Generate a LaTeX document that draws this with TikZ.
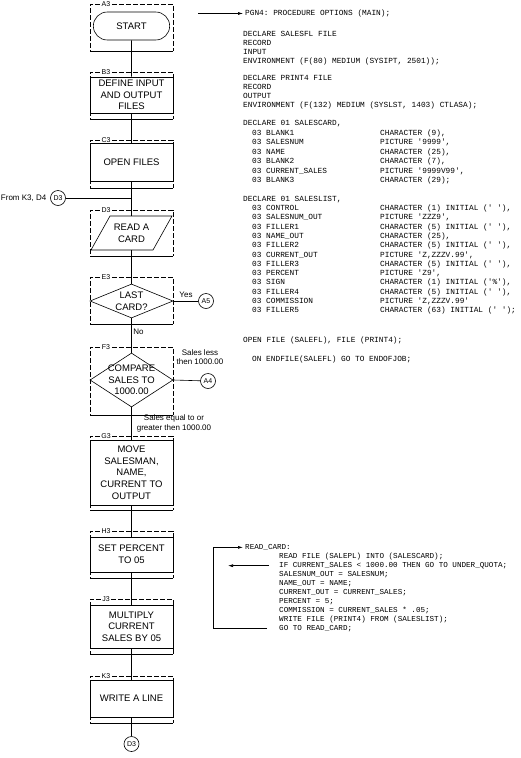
\documentclass[tikz,border=0pt]{standalone}
\usepackage{fontspec}
\setmainfont{Liberation Sans}
\setmonofont{Liberation Mono}
\usetikzlibrary{arrows.meta}
\usetikzlibrary{shapes.geometric,shapes.misc}

\tikzset{
  flow/.style={line width=0.6pt,-{Latex[length=5pt,width=3pt]}},
  frame/.style={line width=0.5pt,dash pattern=on 5pt off 2pt},
  tag/.style={font=\fontsize{7}{8}\selectfont,inner sep=1.5pt},
  flowtext/.style={font=\fontsize{9.5}{11.7}\selectfont,align=center,inner sep=0pt},
  procbox/.style={draw,line width=0.6pt,minimum width=83pt,inner sep=0pt,
    font=\fontsize{9.5}{11.7}\selectfont,align=center},
  termbox/.style={draw,line width=0.6pt,rounded rectangle,minimum width=83pt,
    minimum height=28pt,font=\fontsize{9.5}{11.7}\selectfont},
  decide/.style={draw,line width=0.6pt,diamond,minimum width=83pt,inner sep=0pt},
  offpage/.style={draw,line width=0.6pt,circle,minimum size=15pt,inner sep=0pt,
    font=\fontsize{7}{8}\selectfont},
  note/.style={font=\fontsize{8}{9.5}\selectfont,align=center,inner sep=0pt},
  code/.style={font=\ttfamily\fontsize{7.8}{9}\selectfont,anchor=base west,inner sep=0pt},
  smallcode/.style={code,font=\ttfamily\fontsize{7.6}{9}\selectfont}
}

\begin{document}
\begin{tikzpicture}[x=1pt,y=-1pt]
 \fill[white] (0,0) rectangle (521,758);
 \useasboundingbox (0,0) rectangle (521,758);

 % block frames with their grid tags
 \foreach \lab/\ya/\yb in {A3/4/51,B3/72/119,C3/140/188,D3/210/256,E3/277/324,F3/347/415,G3/436/510,H3/531/578,J3/599/654,K3/676/723}{
  \node[tag] (tag\lab) at (106,\ya) {\lab};
  \draw[frame] (tag\lab.west) -- (90,\ya) -- (90,\yb);
  \draw[frame] (tag\lab.east) -- (173,\ya) -- (173,\yb);
  \draw[line width=0.5pt] (90,\yb) -- (173,\yb);
 }

 % flowchart
 \node[termbox] (start) at (131.5,26) {START};
 \node[procbox,minimum height=36pt] (define) at (131.5,95) {DEFINE INPUT\\AND OUTPUT\\FILES};
 \node[procbox,minimum height=38pt] (openf) at (131.5,162) {OPEN FILES};
 \draw[line width=0.6pt] (91,250) -- (110,216) -- (172,216) -- (153,250) -- cycle;
 \node[flowtext,minimum height=34pt] (read) at (131.5,233) {READ A\\CARD};
 \node[decide,minimum height=34pt] (last) at (131.5,301) {};
 \node[flowtext] (lasttxt) at (last) {LAST\\CARD?};
 \node[decide,minimum height=54pt] (cmp) at (131.5,380) {};
 \node[flowtext] (cmptxt) at (cmp) {COMPARE\\SALES TO\\1000.00};
 \node[procbox,minimum height=65pt] (move) at (131.5,472.5) {MOVE\\SALESMAN,\\NAME,\\CURRENT TO\\OUTPUT};
 \node[procbox,minimum height=35pt] (setpct) at (131.5,554.5) {SET PERCENT\\TO 05};
 \node[procbox,minimum height=43pt] (mult) at (131.5,626.5) {MULTIPLY\\CURRENT\\SALES BY 05};
 \node[procbox,minimum height=37pt] (write) at (131.5,698.5) {WRITE A LINE};

 \node[offpage] (d3a) at (58,198) {D3};
 \node[offpage] (d3b) at (131.5,744) {D3};
 \node[offpage] (a5) at (206,301) {A5};
 \node[offpage] (a4) at (208,381) {A4};
 \node[note,anchor=east] (from) at (46.5,198) {From K3, D4};

 \draw[line width=0.6pt] (start) -- (define);
 \draw[line width=0.6pt] (define) -- (openf);
 \draw[line width=0.6pt] (openf) -- (read);
 \draw[line width=0.6pt] (read) -- (last);
 \draw[line width=0.6pt] (last) -- (cmp);
 \draw[line width=0.6pt] (cmp) -- (move);
 \draw[line width=0.6pt] (move) -- (setpct);
 \draw[line width=0.6pt] (setpct) -- (mult);
 \draw[line width=0.6pt] (mult) -- (write);
 \draw[line width=0.6pt] (write) -- (d3b);
 \draw[line width=0.6pt] (d3a) -- (d3a -| openf);
 \draw[line width=0.6pt] (last.east) -- (a5);
 \draw[line width=0.6pt] (cmp.east) -- (a4);

 \node[note] (yes) at (186,295) {Yes};
 \node[note] (no) at (138.5,332) {No};
 \node[note] (less) at (200,357) {Sales less\\then 1000.00};
 \node[note] (equal) at (174,423.5) {Sales equal to or\\greater then 1000.00};

 % program listing
 \node[code] (pgm) at (245,15.5) {PGN4: PROCEDURE OPTIONS (MAIN);};
 \coordinate (pgmin) at (198,13);
 \draw[flow] (pgmin |- pgm.west) -- ([xshift=-2pt]pgm.west);

 \foreach \txt [count=\i] in {DECLARE SALESFL FILE,RECORD,INPUT,{ENVIRONMENT (F(80) MEDIUM (SYSIPT, 2501));}}
  \node[code] (fin\i) at (243,{36.5+9*(\i-1)}) {\txt};
 \foreach \txt [count=\i] in {DECLARE PRINT4 FILE,RECORD,OUTPUT,{ENVIRONMENT (F(132) MEDIUM (SYSLST, 1403) CTLASA);}}
  \node[code] (fout\i) at (243,{80.5+9*(\i-1)}) {\txt};

 \node[code] (card) at (243,125.5) {DECLARE 01 SALESCARD,};
 \foreach \fld/\attr [count=\i] in {BLANK1/{CHARACTER (9),},SALESNUM/{PICTURE '9999',},NAME/{CHARACTER (25),},BLANK2/{CHARACTER (7),},CURRENT\_SALES/{PICTURE '9999V99',},BLANK3/{CHARACTER (29);}}{
  \node[code] (cardL\i) at (252,{135.5+9.4*(\i-1)}) {03 \fld};
  \node[code] (cardR\i) at (380,{135.5+9.4*(\i-1)}) {\attr};
 }

 \node[code] (list) at (243,201.5) {DECLARE 01 SALESLIST,};
 \foreach \fld/\attr [count=\i] in {CONTROL/{CHARACTER (1) INITIAL (' '),},SALESNUM\_OUT/{PICTURE 'ZZZ9',},FILLER1/{CHARACTER (5) INITIAL (' '),},NAME\_OUT/{CHARACTER (25),},FILLER2/{CHARACTER (5) INITIAL (' '),},CURRENT\_OUT/{PICTURE 'Z,ZZZV.99',},FILLER3/{CHARACTER (5) INITIAL (' '),},PERCENT/{PICTURE 'Z9',},SIGN/{CHARACTER (1) INITIAL ('\%'),},FILLER4/{CHARACTER (5) INITIAL (' '),},COMMISSION/{PICTURE 'Z,ZZZV.99'},FILLER5/{CHARACTER (63) INITIAL (' ');}}{
  \node[code] (listL\i) at (252,{210.5+9.3*(\i-1)}) {03 \fld};
  \node[code] (listR\i) at (380,{210.5+9.3*(\i-1)}) {\attr};
 }

 \node[code] (openstmt) at (243,342.5) {OPEN FILE (SALEFL), FILE (PRINT4);};
 \node[code] (onend) at (252,361.5) {ON ENDFILE(SALEFL) GO TO ENDOFJOB;};

 \node[smallcode] (readcard) at (245,549.5) {READ\_CARD:};
 \foreach \txt [count=\i] in {READ FILE (SALEPL) INTO (SALESCARD);,IF CURRENT\_SALES < 1000.00 THEN GO TO UNDER\_QUOTA;,SALESNUM\_OUT = SALESNUM;,NAME\_OUT = NAME;,CURRENT\_OUT = CURRENT\_SALES;,PERCENT = 5;,COMMISSION = CURRENT\_SALES * .05;,WRITE FILE (PRINT4) FROM (SALESLIST);,GO TO READ\_CARD;}
  \node[smallcode] (body\i) at (279,{558.5+9*(\i-1)}) {\txt};

 \coordinate (quota) at (228,565);
 \draw[flow] ([xshift=-10pt]body2.west) -- (quota |- body2.west);
 \draw[flow] ([xshift=-12pt]body9.west) -- ++(-54,0) |- ([xshift=-2pt]readcard.west);
\end{tikzpicture}
\end{document}
